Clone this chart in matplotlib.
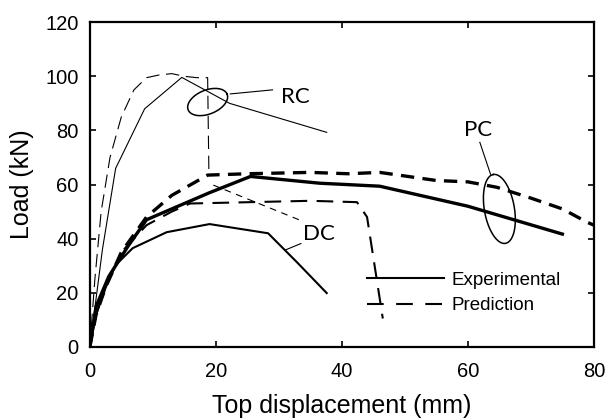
import numpy as np
import matplotlib
matplotlib.use("Agg")
import matplotlib.pyplot as plt

plt.rcParams['font.family'] = ['Liberation Sans', 'DejaVu Sans']

# --- data ---
pc_exp_x = [0, 1, 3, 6, 9, 14, 19, 25.5, 36.5, 46, 60, 75]
pc_exp_y = [0, 15, 26, 37, 47, 52, 57, 63, 60.5, 59.4, 52, 41.7]

pc_pred_x = [0, 1, 2.5, 5, 9, 13, 18.7, 25, 35, 41, 46, 55, 60, 64.6, 70, 75, 79, 80]
pc_pred_y = [0, 12, 22, 35, 48, 56, 63.5, 64, 64.5, 64, 64.5, 61.5, 61, 59, 55, 51, 46, 45]

rc_exp_x = [0, 1, 2, 4.1, 8.7, 14.6, 22.2, 37.6]
rc_exp_y = [0, 18, 36, 66, 88, 99.6, 90, 79.3]

rc_pred_x = [0, 0.8, 1.8, 3.2, 5, 7, 9, 11, 13, 15, 17, 18.7, 18.9]
rc_pred_y = [0, 25, 50, 70, 85, 95, 99.5, 100.5, 101, 100, 99.5, 99.5, 64]

dc_exp_x = [0, 1, 2.5, 4, 6.8, 12.2, 19, 28.3, 33, 37.6]
dc_exp_y = [0, 12, 22, 30, 36.5, 42.4, 45.4, 42, 31, 19.9]

dc_pred_x = [0, 1, 2.5, 5, 9, 13, 15.9, 25.4, 35, 42.4, 44, 46.5]
dc_pred_y = [0, 12, 22, 35, 45, 50, 53, 53.5, 54, 53.5, 48, 10.5]

x_ticks = [0, 20, 40, 60, 80]
y_ticks = [0, 20, 40, 60, 80, 100, 120]

fig = plt.figure(figsize=(6.11, 4.19), dpi=100)
ax = fig.add_axes([0.147, 0.172, 0.825, 0.775])

ax.plot(pc_exp_x, pc_exp_y, color='black', lw=2.4, solid_joinstyle='round')
ax.plot(pc_pred_x, pc_pred_y, color='black', lw=2.4, dashes=(4, 2.5))
ax.plot(rc_exp_x, rc_exp_y, color='black', lw=0.8)
ax.plot(rc_pred_x, rc_pred_y, color='black', lw=0.8, dashes=(12, 6))
ax.plot(dc_exp_x, dc_exp_y, color='black', lw=1.5)
ax.plot(dc_pred_x, dc_pred_y, color='black', lw=1.5, dashes=(8, 4.5))

# legend handles (no frame)
ax.plot([], [], color='black', lw=1.5, label='Experimental')
ax.plot([], [], color='black', lw=1.5, dashes=(8, 6), label='Prediction')
ax.legend(loc='upper left', bbox_to_anchor=(0.55, 0.232), frameon=False,
          borderpad=0, borderaxespad=0,
          fontsize=13.5, handlelength=4.1, handletextpad=0.43, labelspacing=0.45)

# ellipses drawn in pixel space, converted to data units
px_per_mm = 504 / 80.0
px_per_kn = 325 / 120.0


def ellipse(cx, cy, a, b, ang):
    t = np.linspace(0, 2 * np.pi, 200)
    r = np.deg2rad(ang)
    dx = a * np.cos(t) * np.cos(r) - b * np.sin(t) * np.sin(r)
    dy = a * np.cos(t) * np.sin(r) + b * np.sin(t) * np.cos(r)
    ax.plot(cx + dx / px_per_mm, cy + dy / px_per_kn, color='black', lw=1.1)


ellipse(18.7, 90.5, 21, 12, 22)
ellipse(65.0, 51.0, 35, 15, 100)

# leaders and labels
lbl_font = ['Lato', 'DejaVu Sans']
ax.plot([22.3, 29.0], [93.5, 95.0], color='black', lw=0.8)
ax.text(30.4, 92.4, 'RC', fontsize=16, family=lbl_font, va='center', ha='left')
ax.plot([61.9, 63.6], [75.6, 63.8], color='black', lw=0.8)
ax.text(61.6, 80, 'PC', fontsize=16, family=lbl_font, va='center', ha='center')
ax.plot([19.6, 33.3], [59.8, 46.9], color='black', lw=0.8, dashes=(6, 5))
ax.plot([31.0, 33.5], [35.8, 38.2], color='black', lw=0.8)
ax.text(33.9, 41.7, 'DC', fontsize=16, family=lbl_font, va='center', ha='left')

ax.set_xlim(0, 80)
ax.set_ylim(0, 120)
ax.set_xticks(x_ticks)
ax.set_yticks(y_ticks)
ax.tick_params(direction='in', top=True, right=True, labelsize=14.5, length=4, width=1.2)
ax.tick_params(axis='x', pad=11)
ax.tick_params(axis='y', pad=8)
for s in ax.spines.values():
    s.set_linewidth(1.6)
ax.set_xlabel('Top displacement (mm)', fontsize=18, labelpad=9)
ax.set_ylabel('Load (kN)', fontsize=18, labelpad=8)

fig.savefig('out.png', dpi=100)
